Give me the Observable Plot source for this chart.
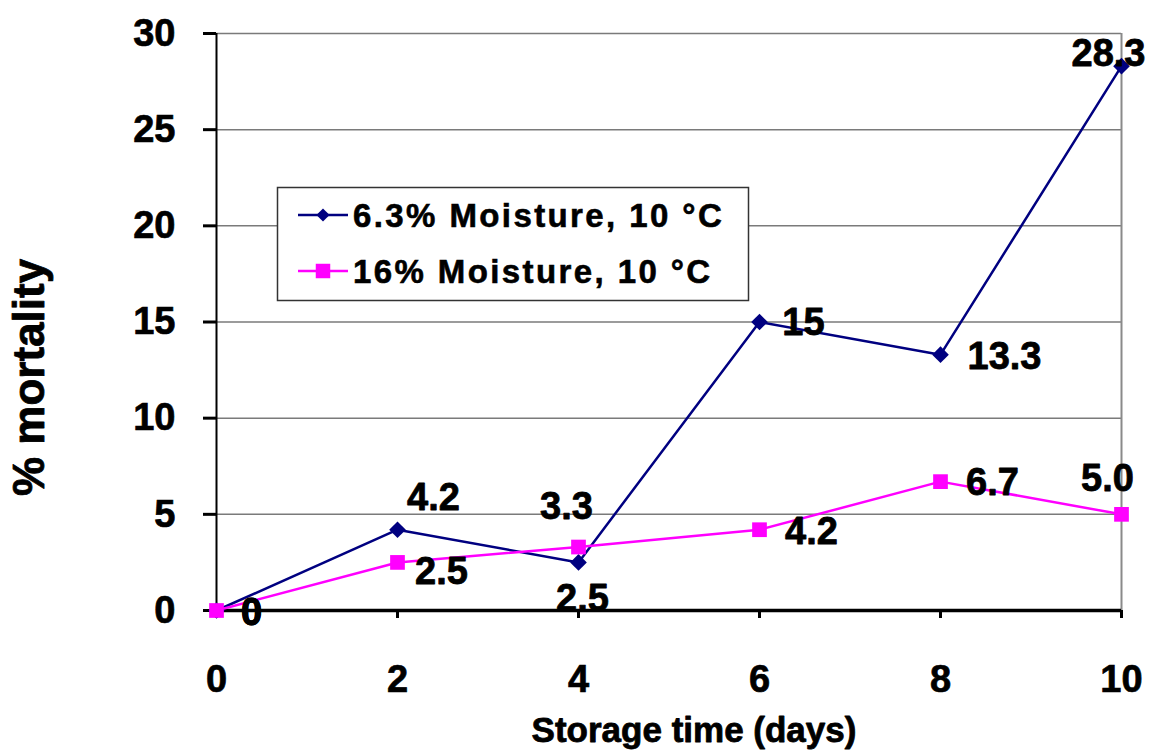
<!DOCTYPE html>
<html>
<head>
<meta charset="utf-8">
<script src="https://cdn.jsdelivr.net/npm/d3@7"></script>
<script src="https://cdn.jsdelivr.net/npm/@observablehq/plot@0.6"></script>
<style>
  html, body { margin: 0; padding: 0; background: #fff; }
  #chart { position: relative; width: 1149px; height: 750px; font-family: "Liberation Sans", Arial, sans-serif; }
  #legend { position: absolute; left: 0; top: 0; pointer-events: none; }
  #chart g[aria-label$="tick label"] { stroke: black; stroke-width: 0.7px; }
</style>
</head>
<body>
<div id="chart"></div>
<script>
// Storage time in days
const days = [0, 2, 4, 6, 8, 10];
// Mortality (%) as printed beside each point
const labelsLow = ["0", "4.2", "2.5", "15", "13.3", "28.3"];   // 6.3% moisture, 10 °C
const labelsHigh = ["0", "2.5", "3.3", "4.2", "6.7", "5.0"];   // 16% moisture, 10 °C
const mortalityLow = labelsLow.map(Number);
const mortalityHigh = labelsHigh.map(Number);
const seriesNames = ["6.3% Moisture, 10 °C", "16% Moisture, 10 °C"];
const xTicks = [0, 2, 4, 6, 8, 10];
const yTicks = [0, 5, 10, 15, 20, 25, 30];

const rows = (values, labels) => days.map((d, i) => ({day: d, value: values[i], label: labels[i]}));
const low = rows(mortalityLow, labelsLow);
const high = rows(mortalityHigh, labelsHigh);

const navy = "#000080";
const magenta = "#ff00ff";
const font = "'Liberation Sans', Arial, sans-serif";

// Per-point label placement (pixels) so the value labels sit clear of the lines
const offsetsLow = [[35, 2], [36, -32], [4, 36], [44, 1], [64, 2], [-13, -12]];
const offsetsHigh = [[35, 2], [44, 9], [-12, -40], [52, 2], [52, 1], [-14, -36]];

const valueLabels = (data, offsets) => data.map((d, i) =>
  Plot.text([d], {
    x: "day", y: "value", text: "label",
    dx: offsets[i][0], dy: offsets[i][1],
    fontSize: 38, fontWeight: "bold", fill: "black",
    stroke: "black", strokeWidth: 0.8
  })
);

const plot = Plot.plot({
  width: 1149,
  height: 750,
  marginLeft: 216,
  marginRight: 28,
  marginTop: 33,
  marginBottom: 140,
  style: {fontFamily: font, fontWeight: "bold", background: "white", color: "black", overflow: "visible"},
  x: {domain: [0, 10]},
  y: {domain: [0, 30]},
  marks: [
    Plot.gridY(yTicks.slice(1), {stroke: "#7a7a7a", strokeOpacity: 1, strokeWidth: 1.5}),
    Plot.ruleX([xTicks[xTicks.length - 1]], {stroke: "#8a8a8a", strokeWidth: 2}),
    Plot.axisY({
      ticks: yTicks, tickSize: 13, tickPadding: 28, strokeWidth: 3,
      fontSize: 38, fontWeight: "bold", label: null
    }),
    Plot.axisX({
      ticks: xTicks, tickSize: 8, tickPadding: 47, strokeWidth: 3,
      fontSize: 38, fontWeight: "bold", label: null
    }),
    Plot.ruleX([0], {stroke: "black", strokeWidth: 2}),
    Plot.ruleY([0], {stroke: "black", strokeWidth: 3.5}),
    Plot.line(low, {x: "day", y: "value", stroke: navy, strokeWidth: 2.5}),
    Plot.line(high, {x: "day", y: "value", stroke: magenta, strokeWidth: 2.5}),
    Plot.dot(low, {x: "day", y: "value", symbol: "diamond2", r: 7.5, fill: navy, stroke: null}),
    Plot.dot(high, {x: "day", y: "value", symbol: "square", r: 8.3, fill: magenta, stroke: null}),
    ...valueLabels(low, offsetsLow),
    ...valueLabels(high, offsetsHigh),
    Plot.text(["Storage time (days)"], {
      text: d => d, frameAnchor: "bottom", dx: 25, dy: 131,
      fontSize: 35, fontWeight: "bold", fill: "black", stroke: "black", strokeWidth: 0.8
    }),
    Plot.text(["% mortality"], {
      text: d => d, frameAnchor: "left", rotate: -90, dx: -187, dy: 174,
      fontSize: 44, fontWeight: "bold", fill: "black", stroke: "black", strokeWidth: 0.8
    })
  ]
});

const chart = document.getElementById("chart");
chart.appendChild(plot);

// Legend box drawn over the plot area
const legend = d3.select(chart).append("svg")
  .attr("id", "legend")
  .attr("width", 1149).attr("height", 750);
const box = legend.append("g").attr("transform", "translate(277,187)");
box.append("rect")
  .attr("x", 0.5).attr("y", 0.5).attr("width", 471).attr("height", 113)
  .attr("fill", "white").attr("stroke", "#333").attr("stroke-width", 1.5);
const items = [
  {name: seriesNames[0], color: navy, symbol: d3.symbolDiamond2, size: 110, cy: 28},
  {name: seriesNames[1], color: magenta, symbol: d3.symbolSquare, size: 210, cy: 84}
];
const item = box.selectAll("g.item").data(items).join("g")
  .attr("class", "item")
  .attr("transform", d => `translate(0,${d.cy})`);
item.append("line")
  .attr("x1", 21).attr("x2", 71).attr("y1", 0).attr("y2", 0)
  .attr("stroke", d => d.color).attr("stroke-width", 2.5);
item.append("path")
  .attr("transform", "translate(46,0)")
  .attr("d", d => d3.symbol(d.symbol, d.size)())
  .attr("fill", d => d.color);
item.append("text")
  .attr("x", 76).attr("y", 0).attr("dy", "0.36em")
  .attr("font-family", font).attr("font-weight", "bold")
  .attr("font-size", 33).attr("letter-spacing", 2.4)
  .attr("fill", "black").attr("stroke", "black").attr("stroke-width", 0.6)
  .text(d => d.name);
</script>
</body>
</html>
